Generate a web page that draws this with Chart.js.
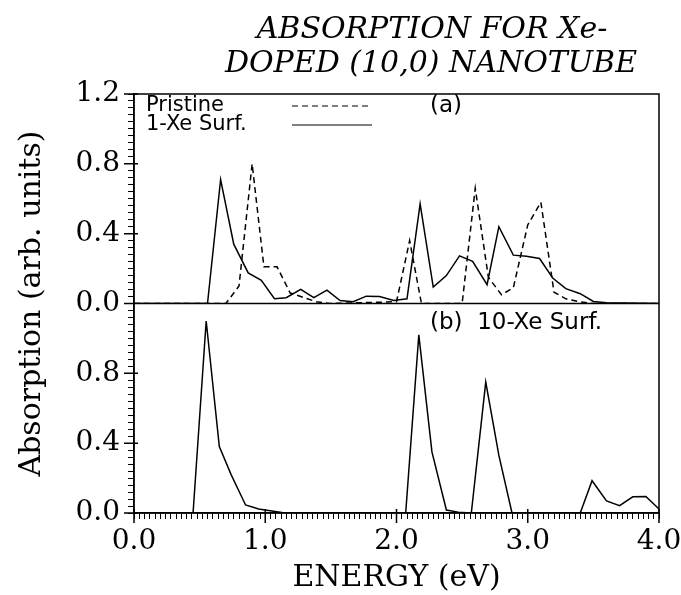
<!DOCTYPE html>
<html>
<head>
<meta charset="utf-8">
<script src="https://cdn.jsdelivr.net/npm/chart.js@4.4.0/dist/chart.umd.min.js"></script>
<style>
  html, body { margin: 0; padding: 0; background: #fff; }
</style>
</head>
<body>
<canvas id="chart" width="681" height="595"></canvas>
<script>
// values (energy in eV, absorption in arb. units)
const pristineEnergy = [0.00, 0.70, 0.80, 0.90, 0.99, 1.09, 1.19, 1.29, 1.39, 1.49, 2.00, 2.10, 2.19, 2.50, 2.60, 2.70, 2.80, 2.89, 3.00, 3.10, 3.20, 3.29, 3.39, 3.49, 4.00];
const pristineAbs    = [0.00, 0.00, 0.10, 0.80, 0.21, 0.21, 0.06, 0.035, 0.01, 0.00, 0.01, 0.36, 0.00, 0.00, 0.66, 0.15, 0.05, 0.09, 0.45, 0.58, 0.065, 0.027, 0.01, 0.00, 0.00];

const oneXeEnergy = [0.00, 0.56, 0.66, 0.76, 0.87, 0.97, 1.07, 1.16, 1.27, 1.37, 1.47, 1.57, 1.67, 1.77, 1.87, 1.98, 2.08, 2.18, 2.28, 2.38, 2.48, 2.58, 2.69, 2.78, 2.89, 2.99, 3.09, 3.19, 3.29, 3.40, 3.50, 3.60, 4.00];
const oneXeAbs    = [0.00, 0.00, 0.71, 0.34, 0.175, 0.133, 0.027, 0.033, 0.081, 0.033, 0.077, 0.017, 0.01, 0.042, 0.04, 0.017, 0.027, 0.57, 0.094, 0.16, 0.273, 0.242, 0.108, 0.44, 0.277, 0.27, 0.258, 0.146, 0.085, 0.056, 0.012, 0.005, 0.00];

const tenXeEnergy = [0.00, 0.45, 0.55, 0.65, 0.74, 0.85, 0.95, 1.05, 1.15, 2.07, 2.17, 2.27, 2.38, 2.47, 2.57, 2.68, 2.78, 2.88, 3.40, 3.49, 3.60, 3.70, 3.80, 3.90, 4.00];
const tenXeAbs    = [0.00, 0.00, 1.10, 0.38, 0.22, 0.046, 0.023, 0.011, 0.00, 0.00, 1.02, 0.35, 0.017, 0.005, 0.00, 0.75, 0.33, 0.00, 0.00, 0.185, 0.069, 0.042, 0.093, 0.095, 0.023];

const xMajor = [0, 1, 2, 3, 4];
const xTickLabels = ['0.0', '1.0', '2.0', '3.0', '4.0'];
const yMajor = [0, 0.4, 0.8, 1.2];
const yTickLabels = ['0.0', '0.4', '0.8', '1.2'];

const titleLines = ['ABSORPTION FOR Xe-', 'DOPED (10,0) NANOTUBE'];
const xTitle = 'ENERGY (eV)';
const yTitle = 'Absorption (arb. units)';
const seriesNames = ['Pristine', '1-Xe Surf.', '10-Xe Surf.'];
const panelLabels = ['(a)', '(b)'];

function toPoints(xs, ys) {
  return xs.map((x, i) => ({ x: x, y: ys[i] }));
}

function majorLabel(v, values, labels) {
  for (let i = 0; i < values.length; i++) {
    if (Math.abs(v - values[i]) < 1e-6) return labels[i];
  }
  return '';
}

const tickFont = { family: 'DejaVu Serif', size: 28 };

function yAxis(hideTop) {
  return {
    type: 'linear',
    position: 'left',
    stack: 'panels',
    stackWeight: 1,
    min: 0,
    max: 1.2,
    ticks: {
      stepSize: 0.04,
      autoSkip: false,
      color: '#000',
      font: tickFont,
      padding: 8,
      callback: v => (hideTop && v > 1.19) ? '' : majorLabel(v, yMajor, yTickLabels)
    },
    grid: { drawOnChartArea: false, drawTicks: true, tickLength: 6, color: '#000', lineWidth: 1 },
    border: { display: true, color: '#000', width: 1.5 },
    afterFit: s => { s.width = 134; }
  };
}

// frame, divider and the longer major ticks
const framePlugin = {
  id: 'frame',
  afterDraw(chart) {
    const ctx = chart.ctx;
    const a = chart.chartArea;
    const yTop = chart.scales.yTop, yBot = chart.scales.yBot, x = chart.scales.x;
    ctx.save();
    ctx.strokeStyle = '#000';
    ctx.lineWidth = 1.5;
    ctx.strokeRect(a.left, a.top, a.right - a.left, a.bottom - a.top);
    ctx.beginPath();
    ctx.moveTo(a.left - 8, yTop.bottom);
    ctx.lineTo(a.right, yTop.bottom);
    [yTop, yBot].forEach(s => {
      yMajor.forEach(v => {
        const py = s.getPixelForValue(v);
        ctx.moveTo(a.left - 10, py);
        ctx.lineTo(a.left + 4, py);
      });
    });
    xMajor.forEach(v => {
      const px = x.getPixelForValue(v);
      ctx.moveTo(px, a.bottom + 10);
      ctx.lineTo(px, a.bottom - 4);
    });
    ctx.stroke();
    ctx.restore();
  }
};

// title, axis title, legend and panel labels
const textPlugin = {
  id: 'texts',
  afterDraw(chart) {
    const ctx = chart.ctx;
    const a = chart.chartArea;
    const sets = chart.data.datasets;
    ctx.save();
    ctx.fillStyle = '#000';
    ctx.textAlign = 'center';
    ctx.textBaseline = 'alphabetic';
    ctx.font = 'italic 30px "DejaVu Serif"';
    ctx.fillText(titleLines[0], 432, 38);
    ctx.fillText(titleLines[1], 431, 72);

    ctx.save();
    ctx.translate(32, (a.top + a.bottom) / 2);
    ctx.rotate(-Math.PI / 2);
    ctx.textBaseline = 'middle';
    ctx.font = '30px "DejaVu Serif"';
    ctx.fillText(yTitle, 0, 0);
    ctx.restore();

    ctx.font = '21px "DejaVu Sans"';
    ctx.textAlign = 'left';
    ctx.textBaseline = 'middle';
    const rows = [[sets[0], 106], [sets[1], 125]];
    rows.forEach(([ds, py]) => {
      ctx.fillText(ds.label, 146, py);
      ctx.save();
      ctx.strokeStyle = '#000';
      ctx.lineWidth = 1.2;
      ctx.setLineDash(ds.borderDash || []);
      ctx.beginPath();
      ctx.moveTo(292, py);
      ctx.lineTo(372, py);
      ctx.stroke();
      ctx.restore();
    });
    ctx.font = '23px "DejaVu Sans"';
    ctx.fillText(panelLabels[0], 430, 106);
    ctx.fillText(panelLabels[1] + '  ' + sets[2].label, 430, 323);
    ctx.restore();
  }
};

new Chart(document.getElementById('chart'), {
  type: 'line',
  data: {
    datasets: [
      { label: seriesNames[0], data: toPoints(pristineEnergy, pristineAbs), yAxisID: 'yTop', borderDash: [6, 4] },
      { label: seriesNames[1], data: toPoints(oneXeEnergy, oneXeAbs), yAxisID: 'yTop' },
      { label: seriesNames[2], data: toPoints(tenXeEnergy, tenXeAbs), yAxisID: 'yBot' }
    ]
  },
  options: {
    responsive: false,
    animation: false,
    layout: { padding: { top: 94, right: 22, left: 0, bottom: 0 } },
    elements: {
      point: { radius: 0 },
      line: { tension: 0, borderWidth: 1.5, borderColor: '#000', fill: false }
    },
    plugins: { legend: { display: false }, tooltip: { enabled: false } },
    scales: {
      x: {
        type: 'linear',
        min: 0,
        max: 4,
        ticks: {
          stepSize: 0.04,
          autoSkip: false,
          maxRotation: 0,
          color: '#000',
          font: tickFont,
          padding: 6,
          callback: v => majorLabel(v, xMajor, xTickLabels)
        },
        grid: { drawOnChartArea: false, drawTicks: true, tickLength: 6, color: '#000', lineWidth: 1 },
        border: { display: true, color: '#000', width: 1.5 },
        title: {
          display: true,
          text: xTitle,
          color: '#000',
          font: { family: 'DejaVu Serif', size: 30, lineHeight: 1 },
          padding: { top: 0, bottom: 2 }
        },
        afterFit: s => { s.height = 82; s.paddingLeft = 0; s.paddingRight = 0; }
      },
      yBot: yAxis(true),
      yTop: yAxis(false)
    }
  },
  plugins: [framePlugin, textPlugin]
});
</script>
</body>
</html>
